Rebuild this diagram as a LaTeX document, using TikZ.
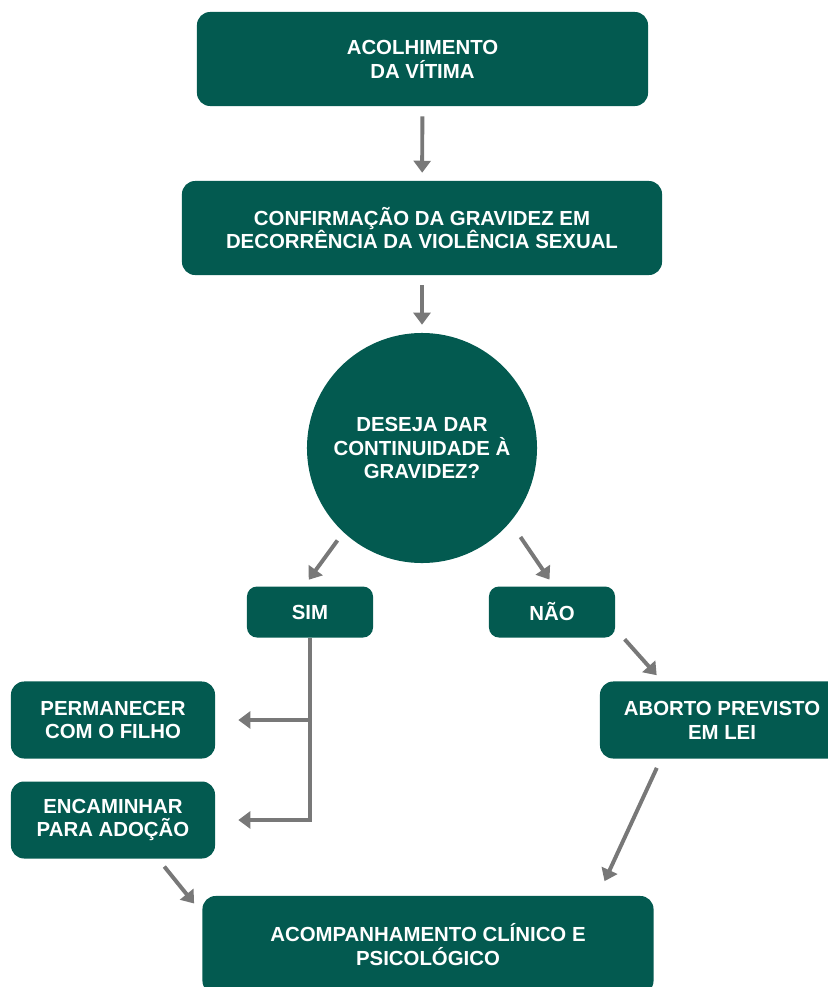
\documentclass[tikz,border=0pt]{standalone}
\usepackage{fontspec}
\setmainfont{Liberation Sans}
\usetikzlibrary{arrows.meta,calc}
\definecolor{boxgreen}{HTML}{035A50}
\definecolor{arrowgrey}{HTML}{787878}
\tikzset{
  flowfig/.style={x=0.025cm,y=-0.025cm,>={Triangle[width=12pt,length=8.5pt]},
    every node/.style={font=\fontsize{14.5}{17}\selectfont\bfseries,
      align=center,text=white}},
  stepbox/.style={fill=boxgreen,rounded corners=0.33cm,inner sep=0pt,
    minimum width=11.275cm,minimum height=2.35cm},
  choicebox/.style={fill=boxgreen,rounded corners=0.25cm,inner sep=0pt,
    minimum width=3.15cm,minimum height=1.275cm},
  sidebox/.style={fill=boxgreen,rounded corners=0.33cm,inner sep=0pt,
    minimum width=5.1cm,minimum height=1.925cm},
  question/.style={circle,fill=boxgreen,inner sep=0pt,minimum size=5.75cm},
  conn/.style={->,draw=arrowgrey,line width=2.8pt,
    shorten <=0.25cm,shorten >=0.2cm},
}

\begin{document}
\begin{tikzpicture}[flowfig]
    \useasboundingbox (0,0) rectangle (828,987);

    \node[stepbox] (acol) at (422.5,59) {ACOLHIMENTO\\DA VÍTIMA};
    \node[stepbox,minimum width=12cm] (conf) at (422,228)
      {CONFIRMAÇÃO DA GRAVIDEZ EM\\DECORRÊNCIA DA VIOLÊNCIA SEXUAL};
    \draw[conn] (acol) -- (conf);

    \node[question] (quest) at (422,448)
      {DESEJA DAR\\CONTINUIDADE À\\GRAVIDEZ?};
    \draw[conn] (conf) -- (quest);

    \node[choicebox] (sim) at (310,612) {SIM};
    \node[choicebox] (nao) at (552,612) {NÃO};
    \draw[conn] (quest.-133) -- ($(sim.north)+(-6,0)$);
    \draw[conn,shorten <=0.45cm] (quest.-40) -- ($(nao.north)+(2,0)$);

    % sim branch
    \node[sidebox] (perm) at (113,720) {PERMANECER\\COM O FILHO};
    \node[sidebox] (encam) at (113,820) {ENCAMINHAR\\PARA ADOÇÃO};
    \draw[conn,shorten <=0pt,shorten >=0.575cm] (sim) |- (encam);
    \draw[conn,shorten <=0pt,shorten >=0.575cm] (sim.south |- perm.east) -- (perm.east);

    % nao branch
    \node[sidebox,minimum width=6.1cm] (aborto) at (722,720)
      {ABORTO PREVISTO\\EM LEI};
    \draw[conn,shorten <=0.05cm] ($(nao.south east)+(8,0)$) -- ($(aborto.north)+(-60,0)$);

    \node[stepbox,minimum height=2.45cm] (acomp) at (428,945)
      {ACOMPANHAMENTO CLÍNICO E\\PSICOLÓGICO};
    \draw[conn,shorten >=0.4cm] ($(aborto.south)+(-61,0)$) -- ($(acomp.north east)+(-56,0)$);
    \draw[conn] ($(encam.south)+(45,0)$) -- ($(acomp.north west)+(-3,14)$);
  \end{tikzpicture}
\end{document}
